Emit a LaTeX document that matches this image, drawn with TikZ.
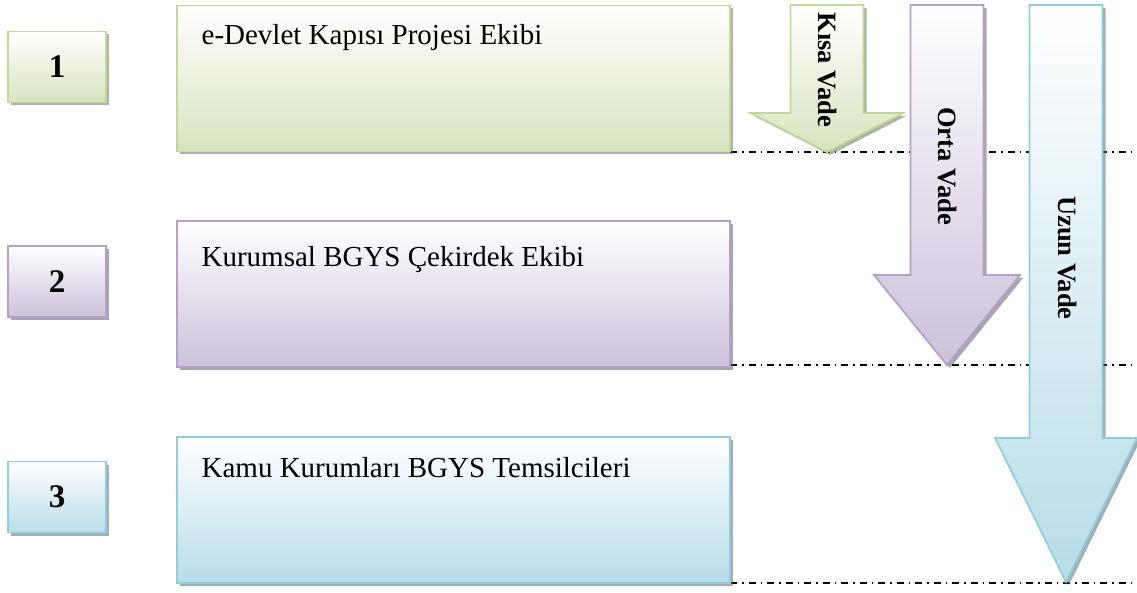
\documentclass[tikz,border=0pt]{standalone}
\usepackage{fontspec}
\setmainfont{Liberation Serif}
\usepackage{xcolor}
\usepackage{tikz}
\usetikzlibrary{calc,shadows}

\definecolor{grnline}{HTML}{C3D69B}
\definecolor{grnfill}{HTML}{D7E4BD}
\definecolor{purline}{HTML}{B3A2C7}
\definecolor{purfill}{HTML}{CCC1DA}
\definecolor{bluline}{HTML}{93CDDD}
\definecolor{blufill}{HTML}{B7DDE8}

\tikzset{
  tone/.style={draw=#1line, line width=1.8pt, top color=white, bottom color=#1fill,
    drop shadow={shadow xshift=3pt, shadow yshift=-3pt, fill=#1line!55!black, opacity=0.55}},
  numbox/.style={tone=#1, minimum width=98pt, minimum height=71pt,
    font=\fontsize{33}{35}\selectfont\bfseries},
  teambox/.style={tone=#1, minimum width=553pt, minimum height=146pt},
  teamtext/.style={anchor=base west, font=\fontsize{29}{32}\selectfont},
  vadetext/.style={rotate=-90, font=\fontsize{26.5}{29}\selectfont\bfseries},
  guide/.style={line width=1.3pt, dash pattern=on 7pt off 5pt on 1.5pt off 5pt}
}

\begin{document}
\begin{tikzpicture}[x=1pt,y=-1pt]
\useasboundingbox (0,0) rectangle (1137,593);

% Guide lines at the box bottoms
\coordinate (g1) at (1137,152);
\coordinate (g2) at (1137,365);
\coordinate (g3) at (1137,583);
\coordinate (s1) at (730,152);
\coordinate (s2) at (730,365);
\coordinate (s3) at (730,583);
\draw[guide] (s1) -- (g1);
\draw[guide] (s2) -- (g2);
\draw[guide] (s3) -- (g3);

% Term arrows (centre, head start, tip, colour)
\foreach \cx/\hy/\ty/\hh/\col in {827/113/152/76/grn, 947/275/365/73/pur, 1066/438/582/71/blu}{
  \draw[tone=\col, line join=miter]
    (\cx-36.5,5) -- (\cx+36.5,5) -- (\cx+36.5,\hy) -- (\cx+\hh,\hy)
    -- (\cx,\ty) -- (\cx-\hh,\hy) -- (\cx-36.5,\hy) -- cycle;
}
\node[vadetext] (kisa) at (827,70) {Kısa Vade};
\node[vadetext] (orta) at (947,166) {Orta Vade};
\node[vadetext] (uzun) at (1067,258) {Uzun Vade};

% Level numbers
\node[numbox=grn] (n1) at (57,67) {1};
\node[numbox=pur] (n2) at (57,281.5) {2};
\node[numbox=blu] (n3) at (57,497) {3};

% Teams
\node[teambox=grn] (b1) at (453.5,78.5) {};
\node[teambox=pur] (b2) at (453.5,294) {};
\node[teambox=blu] (b3) at (453.5,510) {};
\node[teamtext] (t1) at ([xshift=22pt,yshift=-40pt]b1.north west) {e-Devlet Kapısı Projesi Ekibi};
\node[teamtext] (t2) at ([xshift=22pt,yshift=-46pt]b2.north west) {Kurumsal BGYS Çekirdek Ekibi};
\node[teamtext] (t3) at ([xshift=22pt,yshift=-41pt]b3.north west) {Kamu Kurumları BGYS Temsilcileri};
\end{tikzpicture}
\end{document}
